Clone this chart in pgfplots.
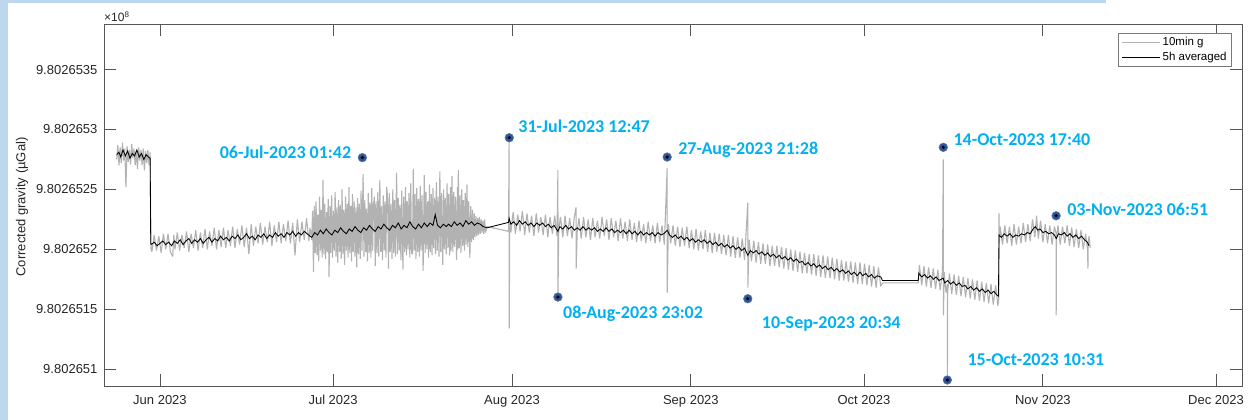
\documentclass[border=0pt]{standalone}
\usepackage{fontspec}
\setmainfont{Liberation Sans}
\newfontfamily\carlito{Carlito}
\usepackage{pgfplots}
\pgfplotsset{compat=1.18}
\definecolor{frameblue}{RGB}{189,215,238}
\definecolor{annblue}{RGB}{0,176,240}
\definecolor{dotblue}{RGB}{47,85,151}
\definecolor{axgray}{RGB}{85,85,85}
\definecolor{leggray}{RGB}{120,120,120}
\definecolor{gline}{RGB}{178,178,178}
\definecolor{tickc}{RGB}{38,38,38}

\pgfplotstableread{
x y
-7.5 275
-7.3 287
-7.1 270
-6.9 285
-6.7 272
-6.5 289
-6.3 274
-6.1 284
-5.9 252
-5.7 286
-5.5 273
-5.3 283
-5.1 271
-4.9 288
-4.7 276
-4.5 284
-4.3 270
-4.1 282
-3.9 267
-3.7 285
-3.5 274
-3.3 283
-3.1 270
-2.9 284
-2.7 266
-2.5 282
-2.3 272
-2.1 283
-1.9 270
-1.7 281
-1.6 210
-1.55 200
-1.4 198
-1.0 212
-0.6 199
-0.2 211
0.2 197
0.6 213
1.0 200
1.4 213
1.8 198
2.2 194
2.4 212
2.6 200
3.0 214
3.4 199
3.8 212
4.2 201
4.6 215
5.0 198
5.4 213
5.8 201
6.2 216
6.6 199
7.0 214
7.4 201
7.8 217
8.2 200
8.6 215
9.0 203
9.4 218
9.8 200
10.2 216
10.6 202
11.0 218
11.4 201
11.8 216
12.2 203
12.6 219
13.0 201
13.4 217
13.8 204
14.2 220
14.6 202
15.0 218
15.4 196
15.8 221
16.2 203
16.6 219
17.0 205
17.4 222
17.8 204
18.2 219
18.6 206
19.0 223
19.4 203
19.8 220
20.2 206
20.6 223
21.0 205
21.4 221
21.8 207
22.2 224
22.6 205
23.0 222
23.4 195
23.8 225
24.2 206
24.6 223
25.0 208
25.4 226
25.8 207
26.0 218
26.3 208
26.45 232
26.6 181
26.75 236
26.9 197
27.05 240
27.2 195
27.35 229
27.5 190
27.65 244
27.8 199
27.95 233
28.1 193
28.25 258
28.4 196
28.55 238
28.7 192
28.85 231
29.0 198
29.15 242
29.3 177
29.45 236
29.6 197
29.75 245
29.9 193
30.05 232
30.2 199
30.35 248
30.5 194
30.65 235
30.8 189
30.95 241
31.1 198
31.25 237
31.4 192
31.55 250
31.7 196
31.85 233
32.0 187
32.15 244
32.3 199
32.45 238
32.6 193
32.75 252
32.9 197
33.05 236
33.2 190
33.35 246
33.5 198
33.65 240
33.8 194
33.95 235
34.1 185
34.25 243
34.4 196
34.55 238
34.7 192
34.85 249
35.0 199
35.2 263
35.35 194
35.5 241
35.65 198
35.8 234
35.95 190
36.1 247
36.25 197
36.4 239
36.55 193
36.7 251
36.85 199
37.0 237
37.15 244
37.3 186
37.45 240
37.6 197
37.75 248
37.9 194
38.1 258
38.25 198
38.4 236
38.55 191
38.7 245
38.85 199
39.0 240
39.15 193
39.3 252
39.45 242
39.6 184
39.75 247
39.9 198
40.05 238
40.2 192
40.35 250
40.5 197
40.65 241
40.8 194
41.0 264
41.15 196
41.3 243
41.45 199
41.6 237
41.75 191
41.9 249
42.1 183
42.25 244
42.4 198
42.55 252
42.7 195
42.85 240
43.0 200
43.15 247
43.3 193
43.45 255
43.6 197
43.75 196
43.9 267
44.05 199
44.2 246
44.35 192
44.5 251
44.65 198
44.8 242
44.95 194
45.1 253
45.25 199
45.4 245
45.6 182
45.8 262
45.95 197
46.1 248
46.25 200
46.4 240
46.55 193
46.7 254
46.85 198
47.0 246
47.15 195
47.3 251
47.45 201
47.6 243
47.75 196
47.9 256
48.05 199
48.2 244
48.35 194
48.5 265
48.65 198
48.8 247
49.0 187
49.15 250
49.3 200
49.45 243
49.6 196
49.75 255
49.9 201
50.05 246
50.2 195
50.35 252
50.45 199
50.6 261
50.75 198
50.9 248
51.05 202
51.2 244
51.4 191
51.55 252
51.62 200
51.7 266
51.85 201
52.0 245
52.15 197
52.3 250
52.45 203
52.6 241
52.75 199
52.9 247
53.05 204
53.2 254
53.35 202
53.5 240
53.7 193
53.85 236
54.0 206
54.15 233
54.3 208
54.45 230
54.6 210
54.75 228
54.9 211
55.05 226
55.2 212
55.35 227
55.5 213
55.65 225
55.8 214
55.95 224
56.1 213
56.25 225
56.4 214
56.7 219
60.4 215
60.5 291
60.53 134
60.6 222
60.8 214
61.2 231
61.6 213
62.0 229
62.4 215
62.8 232
63.2 212
63.6 230
64.0 214
64.4 228
64.8 211
65.2 230
65.6 214
66.0 227
66.4 212
66.8 229
67.2 210
67.6 227
68.0 213
68.4 228
68.8 211
68.96 266
68.97 162
69.1 216
69.4 227
69.8 210
70.2 228
70.6 211
71.0 226
71.4 209
71.8 227
72.1 235
72.12 184
72.3 215
72.6 226
73.0 209
73.4 227
73.8 210
74.2 225
74.6 208
75.0 226
75.4 210
75.8 224
76.2 209
76.6 227
77.0 211
77.4 225
77.8 208
78.2 226
78.6 210
79.0 224
79.4 207
79.8 226
80.2 209
80.6 223
81.0 207
81.4 225
81.8 208
82.2 222
82.6 206
83.0 224
83.4 207
83.8 221
84.2 205
84.6 223
85.0 207
85.4 220
85.8 205
86.2 222
86.6 206
87.0 220
87.4 204
87.89 268
87.9 164
88.1 221
88.5 205
88.9 220
89.3 203
89.7 219
90.1 202
90.5 218
90.9 203
91.3 219
91.7 201
92.1 216
92.5 200
92.9 217
93.3 199
93.7 215
94.1 200
94.5 216
94.9 198
95.3 214
95.7 197
96.1 214
96.5 198
96.9 213
97.3 196
97.7 212
98.1 195
98.5 212
98.9 194
99.3 211
99.7 193
100.1 210
100.5 193
100.9 209
101.3 191
101.86 239
101.87 168
102.1 208
102.5 190
102.9 207
103.3 189
103.7 206
104.1 188
104.5 205
104.9 188
105.3 204
105.7 186
106.1 203
106.5 186
106.9 203
107.3 185
107.7 202
108.1 184
108.5 201
108.9 183
109.3 200
109.7 182
110.1 199
110.5 181
110.9 198
111.3 180
111.7 197
112.1 180
112.5 196
112.9 179
113.3 196
113.7 178
114.1 195
114.5 177
114.9 195
115.3 176
115.7 194
116.1 176
116.5 193
116.9 175
117.3 192
117.7 174
118.1 191
118.5 174
118.9 190
119.3 173
119.7 190
120.1 172
120.5 189
120.9 171
121.3 189
121.7 171
122.1 188
122.5 170
122.9 187
123.3 169
123.7 186
124.1 168
124.5 185
124.9 169
125.2 172
131.4 172
131.6 187
132.0 170
132.4 186
132.8 169
133.2 185
133.6 168
134.0 184
134.4 167
134.8 183
135.2 166
135.6 182
135.74 275
135.76 145
135.9 181
136.2 164
136.44 171
136.45 92
136.5 164
136.8 180
137.2 163
137.6 179
138.0 162
138.4 178
138.8 161
139.2 177
139.6 160
140.0 176
140.4 159
140.8 175
141.2 158
141.6 174
142.0 157
142.4 173
142.8 156
143.2 172
143.6 155
144.0 171
144.4 154
144.8 170
145.2 153
145.35 158
145.4 230
145.45 205
145.6 219
146.0 204
146.4 220
146.8 205
147.2 219
147.6 203
148.0 221
148.4 204
148.8 219
149.2 205
149.6 222
150.0 206
150.4 221
150.8 207
151.2 225
151.6 210
151.9 228
152.2 209
152.6 224
153.0 206
153.4 221
153.8 205
154.2 220
154.6 204
155.0 219
155.29 213
155.3 145
155.35 208
155.6 220
156.0 204
156.4 219
156.8 205
157.2 220
157.6 203
158.0 218
158.4 202
158.8 217
159.2 201
159.6 216
160.0 200
160.4 213
160.75 199
160.8 184
160.85 205
161.0 211
161.2 201
}\graytable

\pgfplotstableread{
x y
-7.5 279
-7.1 281
-6.8 277
-6.4 283
-6.0 278
-5.6 282
-5.2 276
-4.8 280
-4.4 278
-4.0 283
-3.6 277
-3.2 280
-2.8 275
-2.4 279
-2.0 277
-1.7 276
-1.6 205
-1.5 204
-1.0 206
-0.5 203
0 205
0.5 207
1.0 204
1.5 206
2 203
2.5 207
3 205
3.5 208
4 204
4.5 207
5 209
5.5 205
6 208
6.5 206
7 209
7.5 205
8 208
8.5 210
9 206
9.5 209
10 207
10.5 211
11 208
11.5 210
12 207
12.5 211
13 209
13.5 212
14 208
14.5 210
15 213
15.5 209
16 211
16.5 208
17 212
17.5 210
18 213
18.5 209
19 212
19.5 210
20 214
20.5 211
21 213
21.5 210
22 214
22.5 212
23 215
23.5 211
24 214
24.5 212
25 215
25.5 213
26 211
26.3 210
26.8 214
27.3 212
27.8 216
28.3 213
28.8 217
29.3 214
29.8 212
30.3 216
30.8 214
31.3 218
31.8 215
32.3 213
32.8 217
33.3 215
33.8 219
34.3 216
34.8 214
35.3 218
35.8 216
36.3 220
36.8 217
37.3 215
37.8 219
38.3 217
38.8 221
39.3 218
39.8 216
40.3 220
40.8 218
41.3 222
41.8 217
42.3 220
42.8 218
43.3 223
43.8 219
44.3 217
44.8 221
45.3 218
45.8 222
46.3 219
46.8 222
47.3 220
47.7 229
48.1 220
48.6 218
49.1 221
49.6 219
50 221
50.5 219
51 223
51.5 220
52 222
52.5 219
53 224
53.5 221
54 223
54.5 220
55 222
55.5 221
56 219
56.7 218
60.4 222.5
60.5 226
60.8 221
61.3 223
61.8 220
62.3 224
62.8 221
63.3 223
63.8 220
64.3 222
64.8 219
65.3 222
65.8 220
66.3 222
66.8 219
67.3 221
67.8 218
68.3 220
68.96 215
69.3 219
69.8 217
70.3 220
70.8 217
71.3 219
71.8 216
72.3 218
72.8 216
73.3 219
73.8 216
74.3 218
74.8 216
75.3 218
75.8 215
76.3 217
76.8 215
77.3 218
77.8 215
78.3 217
78.8 214
79.3 216
79.8 214
80.3 216
80.8 213
81.3 216
81.8 213
82.3 215
82.8 212
83.3 215
83.8 212
84.3 214
84.8 212
85.3 214
85.8 211
86.3 214
86.8 212
87.3 213
87.9 216
88.3 212
88.8 210
89.3 212
89.8 209
90.3 211
90.8 208
91.3 210
91.8 207
92.3 209
92.8 206
93.3 208
93.8 206
94.3 208
94.8 205
95.3 207
95.8 204
96.3 206
96.8 203
97.3 205
97.8 202
98.3 204
98.8 201
99.3 203
99.8 200
100.3 202
100.8 199
101.3 201
101.86 195
102.3 199
102.8 197
103.3 199
103.8 196
104.3 198
104.8 195
105.3 197
105.8 194
106.3 196
106.8 193
107.3 195
107.8 192
108.3 194
108.8 191
109.3 193
109.8 190
110.3 192
110.8 189
111.3 190
111.8 187
112.3 189
112.8 186
113.3 188
113.8 185
114.3 187
114.8 184
115.3 186
115.8 183
116.3 185
116.8 182
117.3 184
117.8 181
118.3 183
118.8 180
119.3 182
119.8 179
120.3 181
120.8 178
121.3 181
121.8 178
122.3 180
122.8 177
123.3 179
123.8 176
124.3 178
124.9 177
125.2 174
131.4 174
131.5 180
132 177
132.5 179
133 176
133.5 178
134 175
134.5 177
135 174
135.7 176
136 172
136.5 174
137 171
137.5 173
138 170
138.5 172
139 169
139.5 170
140 167
140.5 169
141 166
141.5 168
142 165
142.5 167
143 164
143.5 166
144 163
144.5 165
145 162
145.3 161
145.4 212
145.8 210
146.3 213
146.8 211
147.3 213
147.8 210
148.3 212
148.8 211
149.3 213
149.8 212
150.3 214
150.8 213
151.3 217
151.7 219
152.1 216
152.5 217
153 214
153.5 215
154 213
154.5 214
155 212
155.3 209
155.7 213
156.2 212
156.7 214
157.2 211
157.7 213
158.2 210
158.7 212
159.2 209
159.7 211
160.2 208
160.7 206
161 203
}\blacktable

\pgfplotstableread{
x y
35.07 276.5
60.53 293.1
68.96 160.2
87.89 277.0
101.86 158.8
135.74 285.1
136.44 91.0
155.29 228.0
}\dottable

\begin{document}
\begin{tikzpicture}
\useasboundingbox (0,0) rectangle (1250pt,420pt);
\fill[white] (0,0) rectangle (1250pt,420pt);
\fill[frameblue] (0,0) rectangle (8pt,420pt);
\fill[frameblue] (0,417pt) rectangle (1106pt,420pt);
\begin{axis}[
  at={(104pt,34pt)}, anchor=south west,
  scale only axis, width=1138pt, height=362pt,
  xmin=-9.7, xmax=187.5, ymin=86, ymax=388,
  clip=false,
  axis line style={axgray, line width=0.9pt},
  tick style={axgray, line width=0.9pt},
  major tick length=12pt,
  xtick={0,30,61,92,122,153,183},
  xticklabels={Jun 2023, Jul 2023, Aug 2023, Sep 2023, Oct 2023, Nov 2023, Dec 2023},
  ytick={100,150,200,250,300,350},
  yticklabels={9.802651, 9.8026515, 9.802652, 9.8026525, 9.802653, 9.8026535},
  ticklabel style={font=\fontsize{13}{15}\selectfont, text=tickc},
  xticklabel style={yshift=-6pt},
  yticklabel style={xshift=-3pt},
  legend style={at={(rel axis cs:1,1)}, anchor=north east, xshift=-10pt, yshift=-9pt,
    draw=leggray, line width=0.8pt, fill=white,
    font=\fontsize{11.5}{13}\selectfont, inner xsep=3pt, inner ysep=2pt,
    row sep=1pt, cells={anchor=west}},
  legend image code/.code={\draw[#1] (0pt,0pt) -- (38pt,0pt);},
]
\addplot[gline, line width=1.1pt, line join=bevel] table[x=x,y=y] {\graytable};
\addlegendentry{10min g}
\addplot[black, line width=0.85pt] table[x=x,y=y] {\blacktable};
\addlegendentry{5h averaged}
\addplot[only marks, mark=*, mark size=4.3pt, mark options={fill=dotblue, draw=dotblue!80!white, line width=0.6pt}, forget plot] table[x=x,y=y] {\dottable};
\addplot[only marks, mark=*, mark size=1.4pt, black, forget plot] table[x=x,y=y] {\dottable};

\tikzset{ann/.style={font=\carlito\bfseries\fontsize{18}{20}\selectfont, text=annblue, inner sep=0pt}}
\node[ann, anchor=base east, xshift=-11pt, yshift=-1.1pt] at (axis cs:35.07,276.5) {06-Jul-2023 01:42};
\node[ann, anchor=base west, xshift=9pt, yshift=5.4pt] at (axis cs:60.53,293.1) {31-Jul-2023 12:47};
\node[ann, anchor=base west, xshift=5pt, yshift=-21.8pt] at (axis cs:68.96,160.2) {08-Aug-2023 23:02};
\node[ann, anchor=base west, xshift=11pt, yshift=2.2pt] at (axis cs:87.89,277.0) {27-Aug-2023 21:28};
\node[ann, anchor=base west, xshift=14pt, yshift=-30.1pt] at (axis cs:101.86,158.8) {10-Sep-2023 20:34};
\node[ann, anchor=base west, xshift=10pt, yshift=2pt] at (axis cs:135.74,285.1) {14-Oct-2023 17:40};
\node[ann, anchor=base west, xshift=20pt, yshift=14.2pt] at (axis cs:136.44,91.0) {15-Oct-2023 10:31};
\node[ann, anchor=base west, xshift=11pt, yshift=-0.1pt] at (axis cs:155.29,228.0) {03-Nov-2023 06:51};

\node[rotate=90, font=\fontsize{13}{15}\selectfont, text=tickc] at ([xshift=-82pt, yshift=-2pt]rel axis cs:0,0.5) {Corrected gravity (µGal)};
\node[anchor=base west, inner sep=0pt, font=\fontsize{12}{14}\selectfont, text=tickc] at ([yshift=2pt]rel axis cs:0,1) {×10\textsuperscript{8}};
\end{axis}
\end{tikzpicture}
\end{document}
